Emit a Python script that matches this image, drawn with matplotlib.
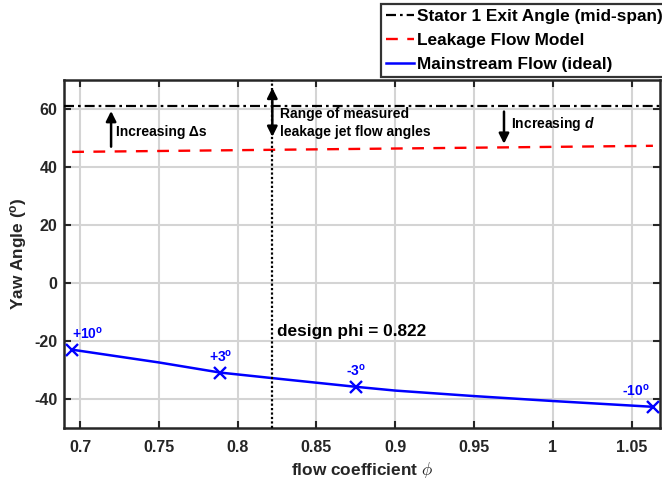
import matplotlib
matplotlib.use("Agg")
import matplotlib.pyplot as plt

plt.rcParams['font.family'] = ['Liberation Sans', 'DejaVu Sans']
plt.rcParams['font.weight'] = 'bold'
plt.rcParams['mathtext.fontset'] = 'custom'
plt.rcParams['mathtext.rm'] = 'Liberation Sans:bold'
plt.rcParams['mathtext.bf'] = 'Liberation Sans:bold'
plt.rcParams['mathtext.it'] = 'Liberation Sans:bold:italic'

# ---- data ----
marker_phi = [0.695, 0.789, 0.875, 1.0635]
marker_yaw = [-23.0, -30.9, -35.8, -42.7]
marker_labels = ['+10$^{\\mathrm{o}}$', '+3$^{\\mathrm{o}}$', '-3$^{\\mathrm{o}}$', '-10$^{\\mathrm{o}}$']

curve_phi = [0.695, 0.75, 0.789, 0.822, 0.875, 0.90, 0.95, 1.00, 1.0635]
curve_yaw = [-23.0, -27.4, -30.9, -32.8, -35.8, -37.1, -39.0, -40.7, -42.7]

leak_phi = [0.695, 1.0635]
leak_yaw = [45.2, 47.3]

stator_yaw = 61.2
design_phi = 0.822

xticks = [0.7, 0.75, 0.8, 0.85, 0.9, 0.95, 1.0, 1.05]
xticklabels = ['0.7', '0.75', '0.8', '0.85', '0.9', '0.95', '1', '1.05']
yticks = [-40, -20, 0, 20, 40, 60]
yticklabels = ['-40', '-20', '0', '20', '40', '60']
xlim = (0.690, 1.068)
ylim = (-50, 70)

fig = plt.figure(figsize=(6.62, 4.83), dpi=100)
ax = fig.add_axes([0.0971, 0.1139, 0.8999, 0.7205])

ax.set_xlim(*xlim)
ax.set_ylim(*ylim)

ax.set_xticks(xticks)
ax.set_xticklabels(xticklabels)
ax.set_yticks(yticks)
ax.set_yticklabels(yticklabels)
ax.grid(True, color='#d4d4d4', linewidth=1.5)
ax.set_axisbelow(True)

# lines
ax.plot(list(xlim), [stator_yaw, stator_yaw], color='black', linewidth=1.6,
        dashes=(4.5, 1.8, 1.2, 1.8), label='Stator 1 Exit Angle (mid-span)', zorder=3)
ax.plot(leak_phi, leak_yaw, color='#ff0000', linewidth=1.7, dashes=(5, 4),
        label='Leakage Flow Model', zorder=3)
ax.plot(curve_phi, curve_yaw, color='#0000ff', linewidth=1.8,
        label='Mainstream Flow (ideal)', zorder=3)
ax.plot(marker_phi, marker_yaw, linestyle='none', marker='x', color='#0000ff',
        markersize=8, markeredgewidth=1.7, zorder=4)

# marker labels
offsets = [(0, 6), (0, 6), (0, 6), (-2, 6)]
has = ['left', 'center', 'center', 'right']
for px, py, lab, off, ha in zip(marker_phi, marker_yaw, marker_labels, offsets, has):
    ax.annotate(lab, (px, py), xytext=off, textcoords='offset points',
                ha=ha, va='bottom', color='#0000ff', fontsize=10, fontweight='bold')

# design phi line
ax.axvline(design_phi, color='black', linestyle=(0, (1, 1)), linewidth=1.6, zorder=3)
ax.text(0.8248, -16.8, 'design phi = 0.822', fontsize=12.4, fontweight='bold',
        ha='left', va='center')

# arrows and annotations
ax.annotate('', xy=(0.7197, 59.3), xytext=(0.7197, 47.0),
            arrowprops=dict(arrowstyle='-|>', color='black', lw=1.8,
                            mutation_scale=15, shrinkA=0, shrinkB=0))
ax.text(0.7225, 52.2, 'Increasing \u0394s', fontsize=10, fontweight='bold',
        ha='left', va='center')

ax.annotate('', xy=(design_phi, 67.3), xytext=(design_phi, 50.4),
            arrowprops=dict(arrowstyle='<|-|>', color='black', lw=1.8,
                            mutation_scale=15, shrinkA=0, shrinkB=0), zorder=5)
ax.text(0.827, 55.3, 'Range of measured\nleakage jet flow angles', fontsize=10,
        fontweight='bold', ha='left', va='center', linespacing=1.35)

ax.annotate('', xy=(0.969, 48.0), xytext=(0.969, 59.1),
            arrowprops=dict(arrowstyle='-|>', color='black', lw=1.8,
                            mutation_scale=15, shrinkA=0, shrinkB=0))
ax.text(0.9735, 54.7, 'Increasing $\\mathit{d}$', fontsize=10, fontweight='bold',
        ha='left', va='center')

# axes styling
for sp in ax.spines.values():
    sp.set_linewidth(1.8)
    sp.set_color('#262626')
ax.tick_params(direction='in', length=5, width=1.5, top=True, right=True,
               labelsize=11.5, colors='#262626')
ax.tick_params(axis='x', pad=9)
ax.tick_params(axis='y', pad=5)
for lab in ax.get_xticklabels() + ax.get_yticklabels():
    lab.set_fontweight('bold')

ax.set_xlabel('flow coefficient $\\phi$', fontsize=12.4, fontweight='bold', color='#262626',
              math_fontfamily='cm', labelpad=3)
ax.set_ylabel('Yaw Angle ($^{\\mathrm{o}}$)', fontsize=12.4, fontweight='bold', color='#262626')

leg = fig.legend(loc='upper left', bbox_to_anchor=(0.5755, 1 - 4 / 483),
                 fontsize=12.4, frameon=True, fancybox=False, handlelength=1.6,
                 handletextpad=0.2, borderpad=0.3, labelspacing=0.5,
                 borderaxespad=0)
leg.get_frame().set_edgecolor('black')
leg.get_frame().set_linewidth(1.6)
for t in leg.get_texts():
    t.set_fontweight('bold')

fig.savefig('out.png', dpi=100)
